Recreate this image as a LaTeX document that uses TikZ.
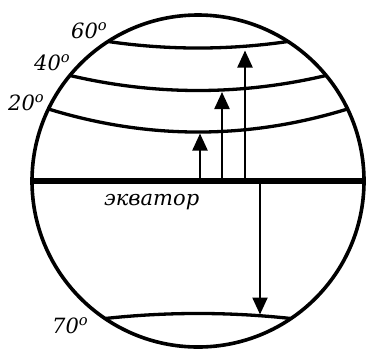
\documentclass[tikz,border=0pt]{standalone}
\usepackage{fontspec}
\setmainfont{DejaVu Serif}
\usetikzlibrary{arrows.meta}
\begin{document}
\begin{tikzpicture}[x=1pt, y=-1pt,
    globe/.style={line width=3.6pt},
    parallel/.style={line width=3.3pt},
    lbl/.style={font=\fontsize{21}{21}\selectfont\itshape, inner sep=0pt, anchor=base west},
    arr/.style={line width=2.3pt, -{Triangle[length=17pt, width=15pt]}}]
    \useasboundingbox (0,0) rectangle (366,349);
    \coordinate (c) at (198,181);
    \draw[globe] (c) circle [radius=166];
    % equator
    \coordinate (wl) at (32,181);
    \coordinate (wr) at (364,181);
    \draw[line width=5.5pt] (wl) -- (wr);
    \node[lbl] (eq) at (104,205) {экватор};
    % parallels
    \draw[parallel] (108,41.5) .. controls (168,50.2) and (228,50.2) .. (288,41.5);
    \draw[parallel] (70,75.5) .. controls (155.3,95.5) and (240.7,95.5) .. (326,75.5);
    \draw[parallel] (48.5,109) .. controls (148.2,139.7) and (247.8,139.7) .. (347.5,109);
    \draw[parallel] (105,318.5) .. controls (167,311.8) and (229,311.8) .. (291,318.5);
    \foreach \n/\x/\y/\t in {p60/71/38/60, p40/34/70/40, p20/8/110/20, p70/52/333/70} {
      \node[lbl] (\n) at (\x,\y) {\t\textsuperscript{o}};
    }
    % arrows
    \foreach \n/\x/\y in {1/200/133.5, 2/222/92, 3/245/50.5, 4/260/314.5} {
      \coordinate (e\n) at (\x,181);
      \coordinate (t\n) at (\x,\y);
      \draw[arr] (e\n) -- (t\n);
    }
\end{tikzpicture}
\end{document}
